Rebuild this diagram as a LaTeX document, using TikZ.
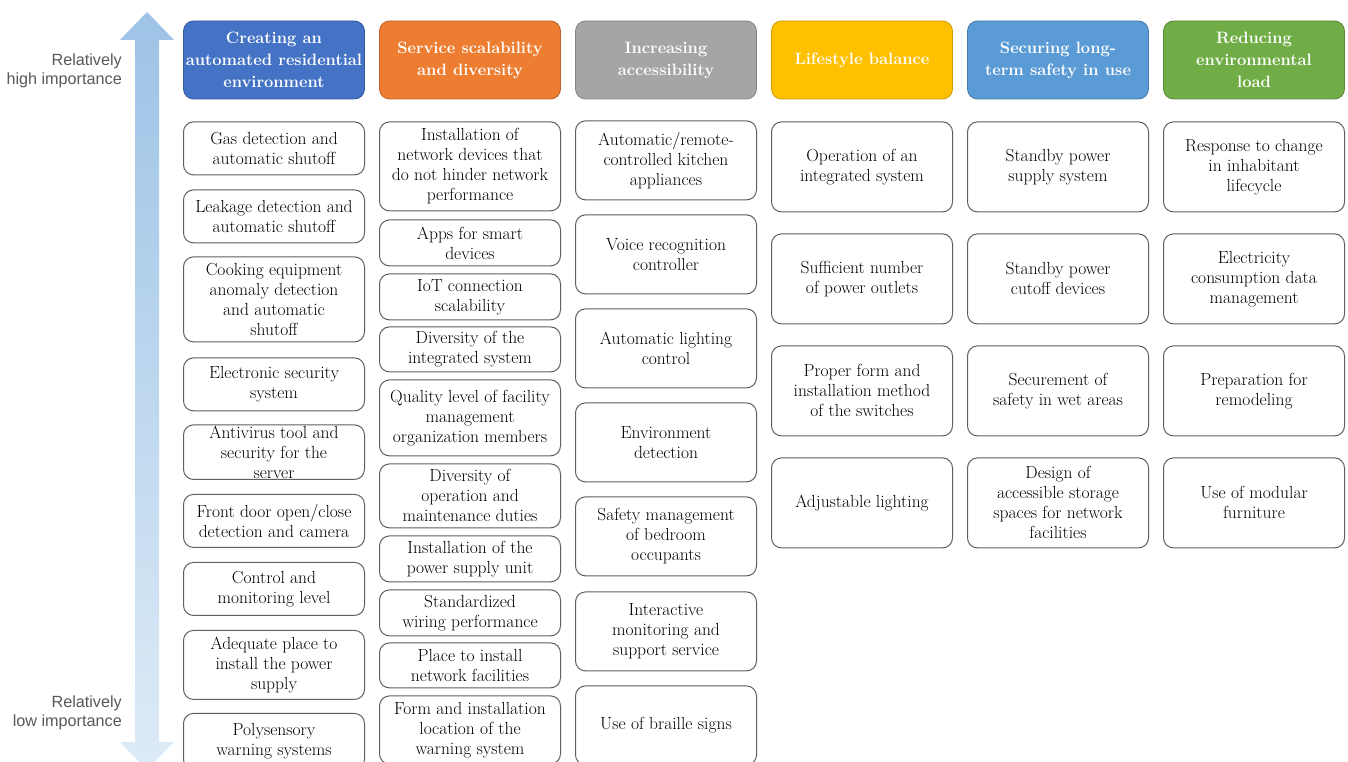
\documentclass[tikz,border=0pt]{standalone}
\usepackage{fontspec}
\newfontfamily\sidefont{Liberation Sans}
\usepackage{xcolor}
\definecolor{hdblue}{RGB}{68,114,196}
\definecolor{hdorange}{RGB}{237,125,49}
\definecolor{hdgray}{RGB}{165,165,165}
\definecolor{hdgold}{RGB}{255,192,0}
\definecolor{hdsky}{RGB}{91,155,213}
\definecolor{hdgreen}{RGB}{112,173,71}
\definecolor{boxline}{RGB}{95,95,95}
\definecolor{arrowtop}{RGB}{157,195,230}
\definecolor{arrowbot}{RGB}{222,235,247}
\definecolor{sidetext}{RGB}{89,89,89}
\usepackage{tikz}
\usetikzlibrary{positioning}
\newcommand\headfont{\fontsize{16.5}{22}\selectfont\bfseries}
\newcommand\itemfont{\fontsize{17.5}{20}\selectfont}

\begin{document}
\begin{tikzpicture}[x=1pt, y=-1pt,
  head/.style={rectangle, rounded corners=10pt, draw=#1!80!black, fill=#1, text=white, line width=0.8pt,
    minimum width=181pt, minimum height=78pt, inner sep=1pt, align=center, font=\headfont},
  item/.style={rectangle, rounded corners=10pt, draw=boxline, fill=white, line width=1pt,
    minimum width=181pt, inner sep=1pt, align=center, font=\itemfont},
  side/.style={anchor=east, align=right, text=sidetext, inner sep=0pt, font=\sidefont\fontsize{16.2}{19}\selectfont}
]
  \useasboundingbox (0,0) rectangle (1348,762);
  \clip (0,0) rectangle (1348,762);

  % importance arrow
  \shade[top color=arrowtop, bottom color=arrowbot]
    (147,12) -- (174,40) -- (159,40) -- (159,742) -- (174,742) -- (147,770)
    -- (120,742) -- (135,742) -- (135,40) -- (120,40) -- cycle;
  \node[side] (hi) at (122,71) {Relatively\\high importance};
  \node[side] (lo) at (122,713) {Relatively\\low importance};

  % headers
  \node[head=hdblue] (h1) at (274,60) {Creating an\\automated residential\\environment};
  \node[head=hdorange] (h2) at (470,60) {Service scalability\\and diversity};
  \node[head=hdgray] (h3) at (666,60) {Increasing\\accessibility};
  \node[head=hdgold] (h4) at (862,60) {Lifestyle balance};
  \node[head=hdsky] (h5) at (1058,60) {Securing long-\\term safety in use};
  \node[head=hdgreen] (h6) at (1254,60) {Reducing\\environmental\\load};

  % automated residential environment
  \node[item, minimum height=53pt, below=22pt of h1] (gas) {Gas detection and\\automatic shutoff};
  \node[item, minimum height=53pt, below=14pt of gas] (leak) {Leakage detection and\\automatic shutoff};
  \node[item, minimum height=85pt, below=13pt of leak] (cook) {Cooking equipment\\anomaly detection\\and automatic\\shutoff};
  \node[item, minimum height=53pt, below=15pt of cook] (elec) {Electronic security\\system};
  \node[item, minimum height=53pt, below=13pt of elec] (anti) {Antivirus tool and\\security for the\\server};
  \node[item, minimum height=53pt, below=14pt of anti] (door) {Front door open/close\\detection and camera};
  \node[item, minimum height=53pt, below=14pt of door] (ctrl) {Control and\\monitoring level};
  \node[item, minimum height=69pt, below=14pt of ctrl] (adeq) {Adequate place to\\install the power\\supply};
  \node[item, minimum height=56pt, below=13pt of adeq] (poly) {Polysensory\\warning systems};

  % service scalability and diversity
  \node[item, minimum height=89pt, below=22pt of h2] (netdev) {Installation of\\network devices that\\do not hinder network\\performance};
  \node[item, minimum height=46pt, below=8pt of netdev] (apps) {Apps for smart\\devices};
  \node[item, minimum height=46pt, below=7pt of apps] (iot) {IoT connection\\scalability};
  \node[item, minimum height=45pt, below=6pt of iot] (divint) {Diversity of the\\integrated system};
  \node[item, minimum height=76pt, below=7pt of divint] (quality) {Quality level of facility\\management\\organization members};
  \node[item, minimum height=64pt, below=7pt of quality] (divop) {Diversity of\\operation and\\maintenance duties};
  \node[item, minimum height=46pt, below=7pt of divop] (power) {Installation of the\\power supply unit};
  \node[item, minimum height=46pt, below=7pt of power] (wiring) {Standardized\\wiring performance};
  \node[item, minimum height=45pt, below=6pt of wiring] (netfac) {Place to install\\network facilities};
  \node[item, minimum height=68pt, below=7pt of netfac] (warn) {Form and installation\\location of the\\warning system};

  % increasing accessibility
  \node[item, minimum height=79pt, below=21pt of h3] (kitchen) {Automatic/remote-\\controlled kitchen\\appliances};
  \node[item, minimum height=79pt, below=14pt of kitchen] (voice) {Voice recognition\\controller};
  \node[item, minimum height=79pt, below=14pt of voice] (light) {Automatic lighting\\control};
  \node[item, minimum height=79pt, below=14pt of light] (envdet) {Environment\\detection};
  \node[item, minimum height=79pt, below=14pt of envdet] (bedroom) {Safety management\\of bedroom\\occupants};
  \node[item, minimum height=79pt, below=15pt of bedroom] (support) {Interactive\\monitoring and\\support service};
  \node[item, minimum height=79pt, below=14pt of support] (braille) {Use of braille signs};

  % lifestyle balance
  \node[item, minimum height=90pt, below=22pt of h4] (system) {Operation of an\\integrated system};
  \node[item, minimum height=90pt, below=21pt of system] (outlets) {Sufficient number\\of power outlets};
  \node[item, minimum height=90pt, below=21pt of outlets] (switches) {Proper form and\\installation method\\of the switches};
  \node[item, minimum height=90pt, below=21pt of switches] (adjlight) {Adjustable lighting};

  % long-term safety
  \node[item, minimum height=90pt, below=22pt of h5] (standby) {Standby power\\supply system};
  \node[item, minimum height=90pt, below=21pt of standby] (cutoff) {Standby power\\cutoff devices};
  \node[item, minimum height=90pt, below=21pt of cutoff] (wet) {Securement of\\safety in wet areas};
  \node[item, minimum height=90pt, below=21pt of wet] (storage) {Design of\\accessible storage\\spaces for network\\facilities};

  % environmental load
  \node[item, minimum height=90pt, below=22pt of h6] (lifecycle) {Response to change\\in inhabitant\\lifecycle};
  \node[item, minimum height=90pt, below=21pt of lifecycle] (energy) {Electricity\\consumption data\\management};
  \node[item, minimum height=90pt, below=21pt of energy] (remodel) {Preparation for\\remodeling};
  \node[item, minimum height=90pt, below=21pt of remodel] (modular) {Use of modular\\furniture};
\end{tikzpicture}
\end{document}
